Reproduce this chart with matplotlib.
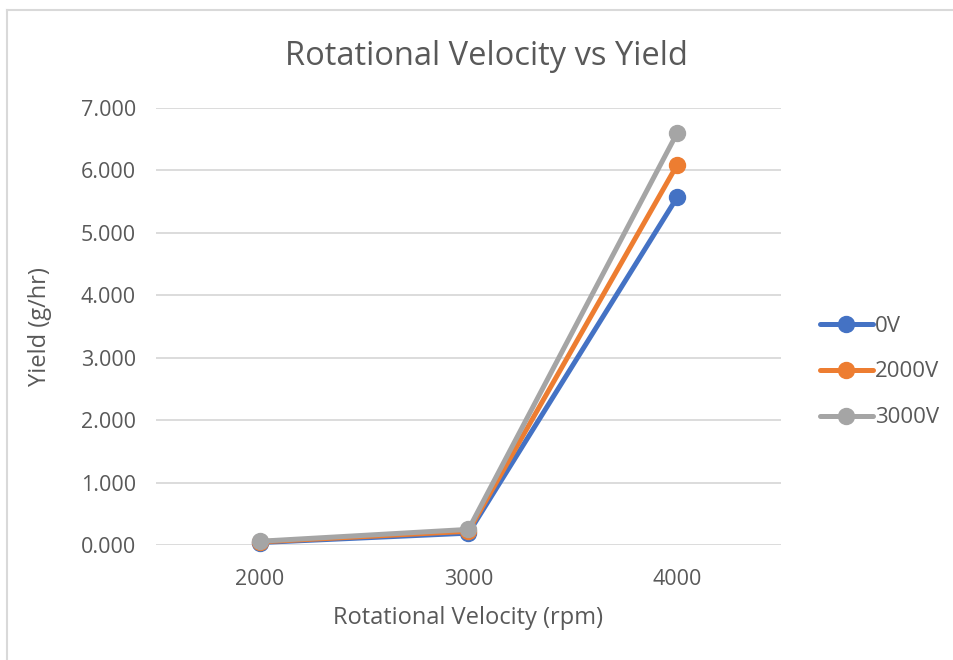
import matplotlib.pyplot as plt
from matplotlib.lines import Line2D

# data
velocity = ['2000', '3000', '4000']
yield_0v = [0.04, 0.19, 5.57]
yield_2000v = [0.05, 0.22, 6.09]
yield_3000v = [0.06, 0.25, 6.60]
series = [('0V', yield_0v, '#4472C4'),
          ('2000V', yield_2000v, '#ED7D31'),
          ('3000V', yield_3000v, '#A5A5A5')]

plt.rcParams['font.family'] = ['Open Sans', 'DejaVu Sans']
txt = '#595959'
grid = '#D9D9D9'

fig = plt.figure(figsize=(9.54, 6.6), dpi=100)
ax = fig.add_axes([155.5 / 954, 115 / 660, 626 / 954, 437 / 660])

x = list(range(len(velocity)))
for name, vals, col in series:
    ax.plot(x, vals, color=col, lw=3.6, marker='o', ms=11.5, label=name,
            solid_capstyle='round', clip_on=False)

ax.set_xlim(-0.5, 2.5)
ax.set_ylim(0, 7)
ax.set_xticks(x)
ax.set_xticklabels(velocity)
ax.set_yticks(range(8))
ax.set_yticklabels([f'{v:.3f}' for v in range(8)])
ax.tick_params(length=0, labelsize=15.5, colors=txt)
ax.tick_params(axis='y', pad=14)
ax.tick_params(axis='x', pad=17)
ax.grid(axis='y', color=grid, lw=1.3)
ax.set_axisbelow(True)
for s in ax.spines.values():
    s.set_visible(False)

# title sits centred on the whole chart, not the plot area
ax.set_title('Rotational Velocity vs Yield', fontsize=23.5, color=txt, pad=31, x=0.529)
ax.set_xlabel('Rotational Velocity (rpm)', fontsize=17, color=txt, labelpad=12)
ax.set_ylabel('Yield (g/hr)', fontsize=17, color=txt, labelpad=21)

leg = ax.legend(loc='center left', bbox_to_anchor=(1.061, 0.396), frameon=False,
                fontsize=16, handlelength=2.4, handletextpad=0.1, borderpad=0,
                borderaxespad=0, labelspacing=1.12, labelcolor=txt)

# light chart-area border (left and top edges visible)
fig.add_artist(Line2D([7.5 / 954, 7.5 / 954], [0, 650 / 660], color=grid, lw=1.5))
fig.add_artist(Line2D([7.5 / 954, 1], [650 / 660, 650 / 660], color=grid, lw=1.5))

fig.savefig('out.png', dpi=100)
